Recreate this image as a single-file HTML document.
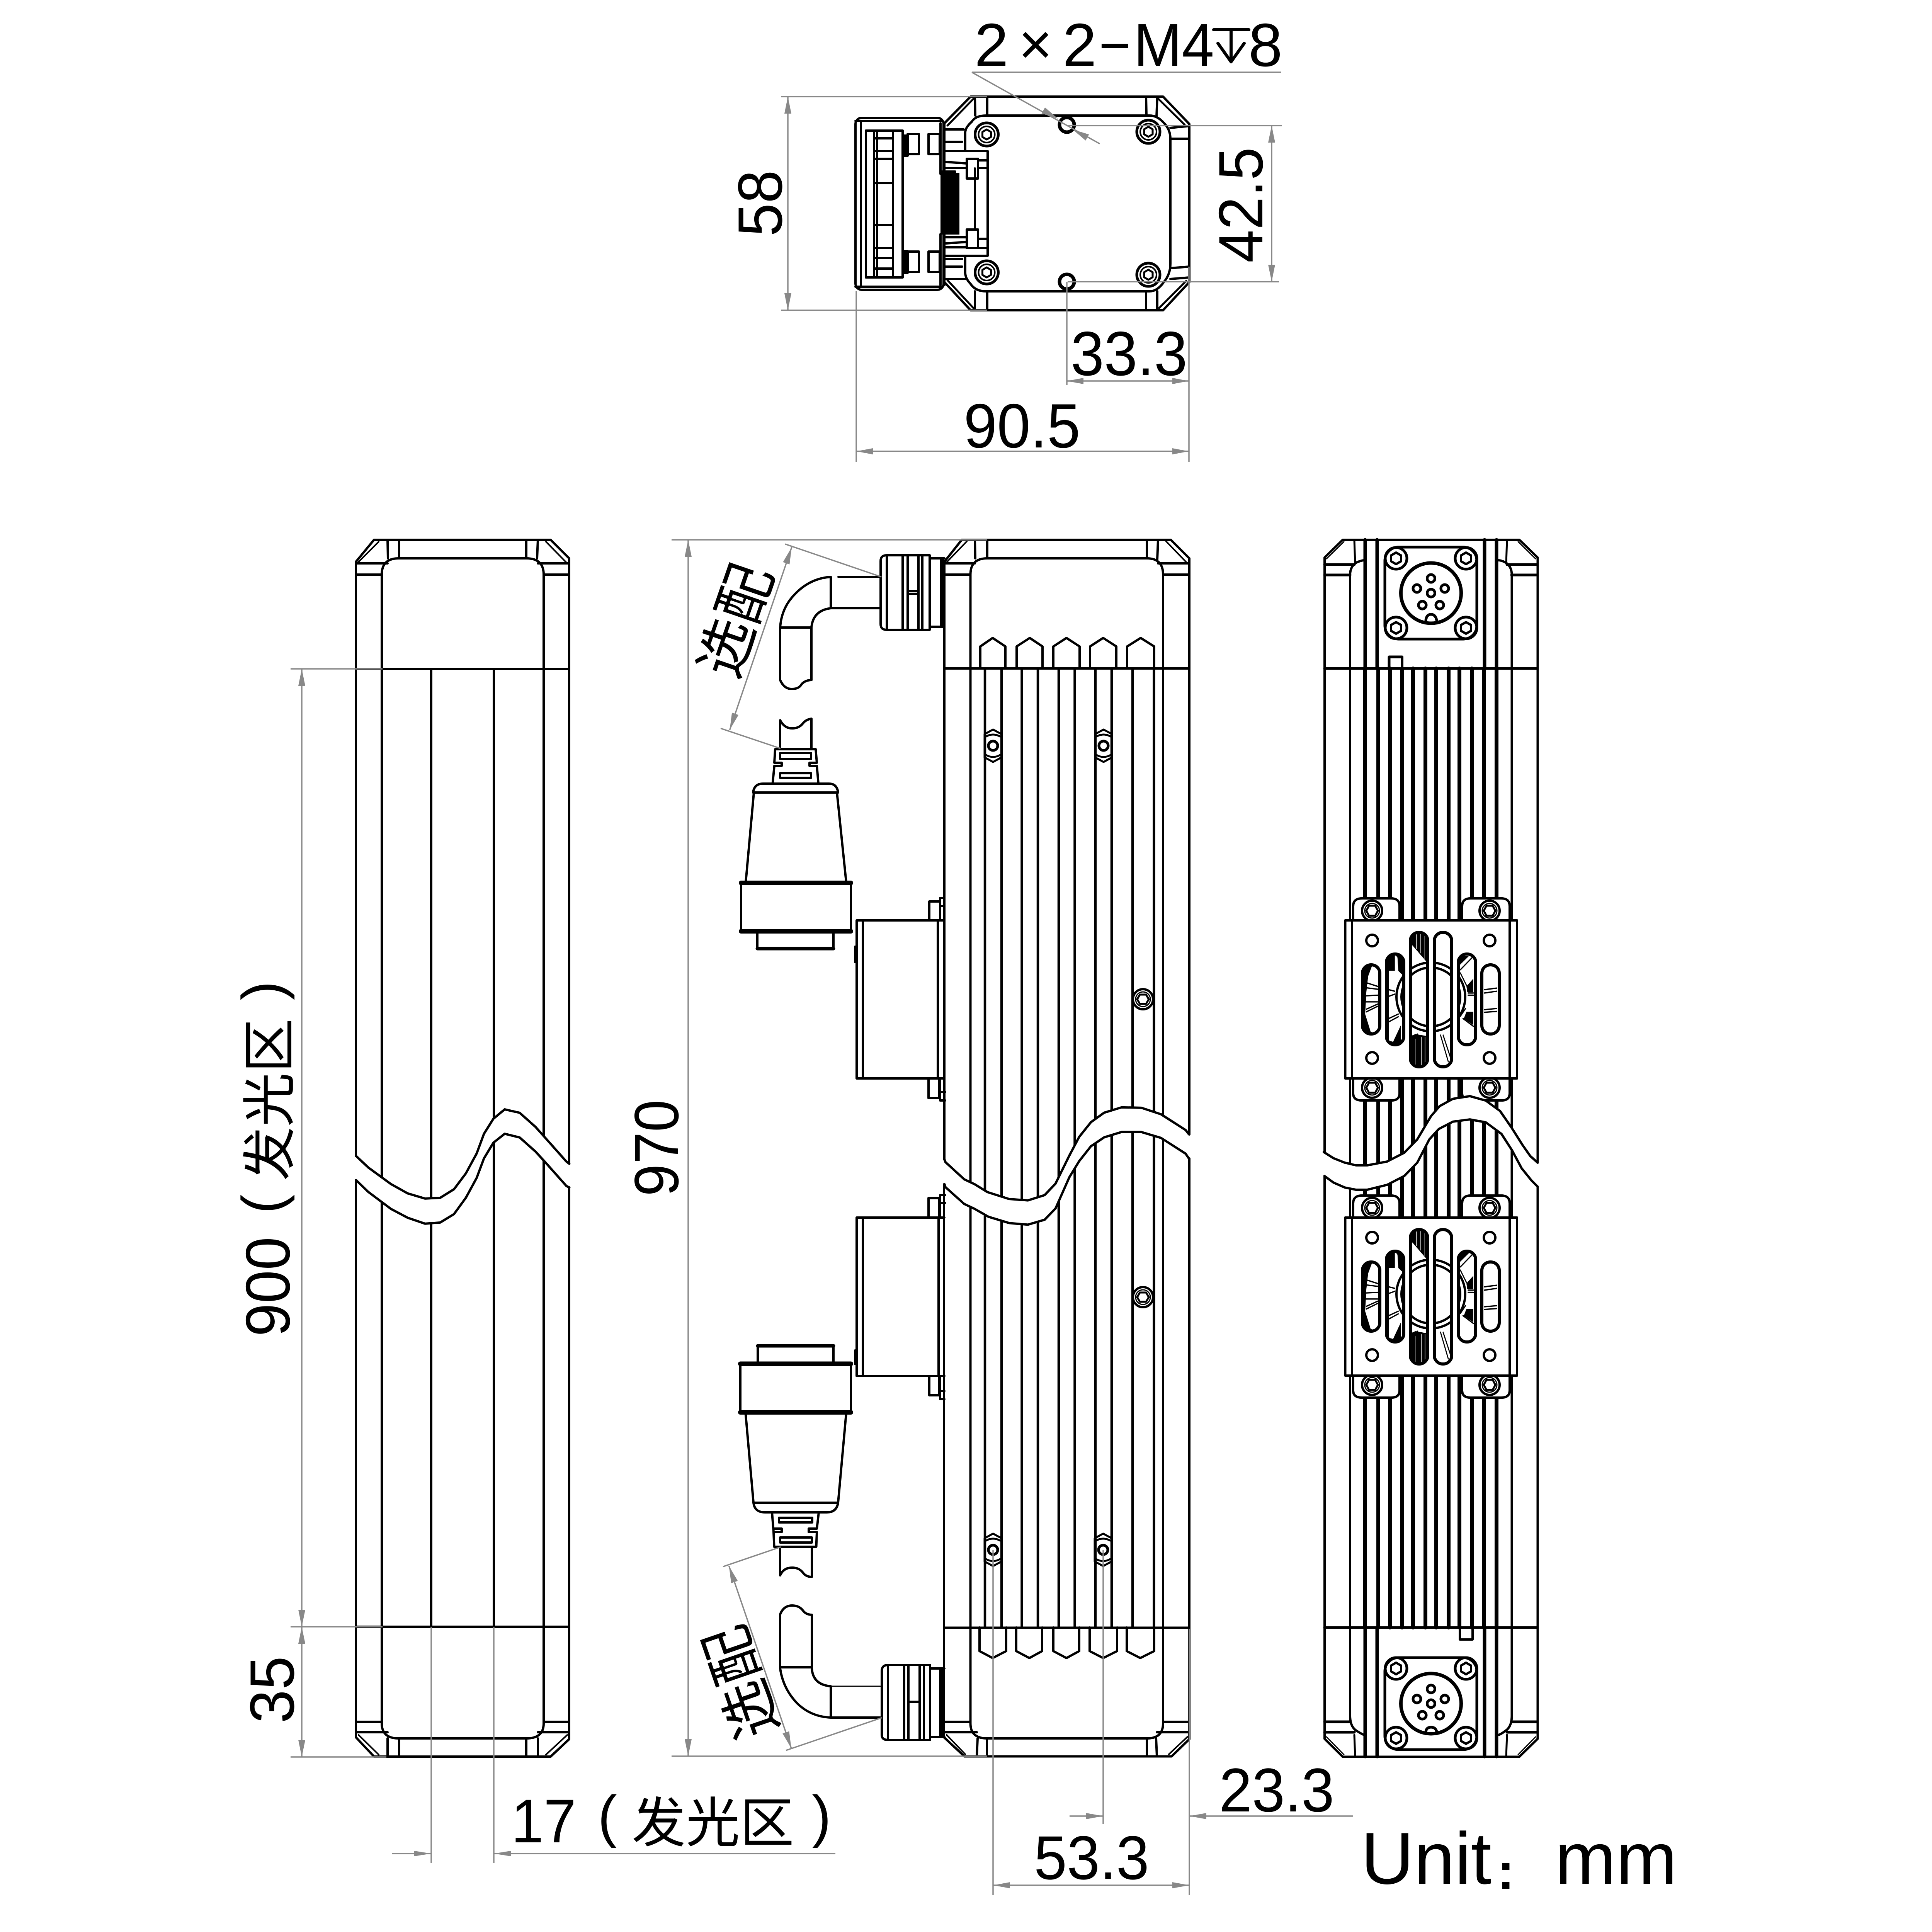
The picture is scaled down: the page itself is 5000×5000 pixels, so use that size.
<!DOCTYPE html>
<html><head><meta charset="utf-8"><style>
html,body{margin:0;padding:0;background:#fff}
svg{display:block}
.k *{vector-effect:non-scaling-stroke}
.k{fill:none;stroke:#000;stroke-width:6;stroke-linejoin:round;stroke-linecap:round}
.g{fill:none;stroke:#888;stroke-width:3.5}
.a{fill:#888;stroke:none}
text{fill:#000;stroke:none;font-family:"Liberation Sans","Noto Sans CJK SC",sans-serif}
</style></head><body>
<svg xmlns="http://www.w3.org/2000/svg" width="5000" height="5000" viewBox="0 0 5000 5000">
<rect width="5000" height="5000" fill="#fff"/>
<defs>
<g id="sc"><circle r="30" stroke-width="7"/><circle r="21" stroke-width="4"/><polygon points="0,-13 11,-6.5 11,6.5 0,13 -11,6.5 -11,-6.5" stroke-width="5"/></g>
<g id="sr"><circle r="28" stroke-width="7"/><polygon points="0,-15 13,-7.5 13,7.5 0,15 -13,7.5 -13,-7.5" stroke-width="6"/></g>
<g id="flat"><circle r="26" stroke-width="6"/><circle r="19" stroke-width="3"/><polygon points="-15,0 -8,-13 8,-13 15,0 8,13 -8,13" stroke-width="5"/></g>
<g id="fs"><circle cx="0" cy="0" r="12" stroke-width="7"/><path d="M-22,-30 L0,-42 22,-30 M-22,30 L0,42 22,30 M-22,-30 V30 M22,-30 V30 M-18,-24 Q0,-34 18,-24 M-18,24 Q0,34 18,24" stroke-width="5"/></g>
<g id="pin"><circle r="10" stroke-width="7"/></g>
<clipPath id="slots">
<rect x="3526" y="2497" width="45" height="179" rx="22"/>
<rect x="3588" y="2469" width="45" height="235" rx="22"/>
<rect x="3650" y="2413" width="45" height="348" rx="22"/>
<rect x="3712" y="2413" width="45" height="348" rx="22"/>
<rect x="3774" y="2469" width="45" height="235" rx="22"/>
<rect x="3835" y="2497" width="45" height="179" rx="22"/>
</clipPath>
<g id="fan">
<path fill="#fff" d="M3502,2382 V2345 Q3502,2325 3525,2325 H3600 Q3622,2325 3622,2345 V2382 Z M3784,2382 V2345 Q3784,2325 3806,2325 H3885 Q3907,2325 3907,2345 V2382 Z M3502,2791 V2830 Q3502,2848 3525,2848 H3600 Q3622,2848 3622,2830 V2791 Z M3784,2791 V2830 Q3784,2848 3806,2848 H3885 Q3907,2848 3907,2830 V2791 Z"/>
<use href="#flat" x="3551" y="2357"/><use href="#flat" x="3855" y="2357"/>
<use href="#flat" x="3551" y="2815"/><use href="#flat" x="3855" y="2815"/>
<rect x="3481.5" y="2382" width="444.5" height="409" fill="#fff"/>
<path d="M3499,2382 V2791 M3907,2382 V2791"/>
<ellipse cx="3551" cy="2434" rx="15" ry="15"/><ellipse cx="3855" cy="2434" rx="15" ry="15"/>
<ellipse cx="3551" cy="2738" rx="15" ry="15"/><ellipse cx="3855" cy="2738" rx="15" ry="15"/>
<g clip-path="url(#slots)">
<circle cx="3703" cy="2580" r="76"/><circle cx="3703" cy="2580" r="89"/>
<g transform="translate(3400 2280) scale(.4464 .574)">
<polygon fill="#000" stroke="none" points="283,378 340,378 315,430 305,500 298,600 330,680 370,690 283,690"/>
<polygon fill="#000" stroke="none" points="422,330 470,330 470,405 435,405 435,720 460,725 505,650 505,738 422,738"/>
<polygon fill="#000" stroke="none" points="485,345 522,345 522,330 470,330"/>
<polygon fill="#000" stroke="none" points="490,405 510,420 522,420 522,340 485,340"/>
<polygon fill="#000" stroke="none" points="560,232 660,232 660,370 572,290 560,300"/>
<polygon fill="#000" stroke="none" points="560,700 590,690 660,700 660,838 560,838"/>
<path stroke="#fff" stroke-width="3" d="M595,238 V305 M618,238 V325 M640,238 V350 M592,705 V832 M625,705 V832 M645,705 V832"/>
<polygon fill="#000" stroke="none" points="845,380 900,338 837,338"/>
<polygon fill="#000" stroke="none" points="885,475 925,440 925,500 890,500"/>
<polygon fill="#000" stroke="none" points="885,590 925,590 925,650 870,620"/>
<path d="M310,460 L370,475 M310,482 L370,488 M297,518 L370,515 M297,545 L370,545 M305,578 L370,555 M305,590 L370,565 M435,490 L470,497 M435,520 L470,510 M435,620 L490,600 M435,635 L490,612 M735,695 L780,815 M750,695 L790,790 M850,400 L925,340 M895,505 L925,505 M895,515 L925,515 M865,620 L925,655 M990,490 L1060,483 M990,505 L1060,497 M990,580 L1060,575 M990,592 L1060,588 M572,740 L600,690 M850,415 L885,470 M850,610 L880,575"/>
</g>
</g>
<rect x="3526" y="2497" width="45" height="179" rx="22" stroke-width="8"/>
<rect x="3588" y="2469" width="45" height="235" rx="22" stroke-width="8"/>
<rect x="3650" y="2413" width="45" height="348" rx="22" stroke-width="8"/>
<rect x="3712" y="2413" width="45" height="348" rx="22" stroke-width="8"/>
<rect x="3774" y="2469" width="45" height="235" rx="22" stroke-width="8"/>
<rect x="3835" y="2497" width="45" height="179" rx="22" stroke-width="8"/>
<rect x="3481.5" y="2382" width="444.5" height="409"/>
<path d="M3502,2382 V2345 Q3502,2325 3525,2325 H3600 Q3622,2325 3622,2345 V2382 M3784,2382 V2345 Q3784,2325 3806,2325 H3885 Q3907,2325 3907,2345 V2382 M3502,2791 V2830 Q3502,2848 3525,2848 H3600 Q3622,2848 3622,2830 V2791 M3784,2791 V2830 Q3784,2848 3806,2848 H3885 Q3907,2848 3907,2830 V2791"/>
</g>
</defs>

<g class="k">
<!-- ===== HEAD VIEW ===== -->
<path d="M2444,319 L2512,250 H3010 L3078,321 V730 L3010,803 H2512 L2444,730"/>
<path d="M2452,325 L2519,256 M2998,256 L3066,323 M2452,725 L2519,797 M3000,797 L3070,727" stroke-width="5"/>
<path d="M2523,250 L2524,299 M2555,250 V299 M2966,250 L2967,299 M2995,250 L2993,303 M2523,803 V754 M2555,803 V754 M2966,803 V754 M2995,803 V754"/>
<path d="M2498,343 Q2498,330 2515,315 Q2525,299 2552,299 H2975 Q2995,299 3012,318 Q3029,335 3029,360 V682 Q3029,710 3012,730 Q2995,754 2975,754 H2552 Q2525,754 2512,735 Q2498,720 2498,706 V662 H2556 V391 H2498 Z"/>
<path d="M3029,331 L3078,326 M3029,359 H3078 M3029,694 L3078,690 M3029,722 L3078,718"/>
<use href="#sc" x="2553.5" y="348"/><use href="#sc" x="2972" y="341"/><use href="#sc" x="2553.5" y="705"/><use href="#sc" x="2972" y="711"/>
<circle cx="2761" cy="323" r="19" stroke-width="9"/><circle cx="2761" cy="729" r="19" stroke-width="9"/>
<!-- connector -->
<rect x="2214" y="305" width="228" height="445" rx="16"/>
<path d="M2228,313 V742 M2214,313 H2436 M2214,742 H2436 M2241,338 V718 M2262,338 V718 M2270,338 V718 M2311,338 V718 M2336,338 V718"/>
<path d="M2241,338 H2336 M2241,718 H2336 M2262,358 H2311 M2262,391 H2311 M2262,411 H2311 M2262,474 H2311 M2262,582 H2311 M2262,642 H2311 M2262,668 H2311 M2262,695 H2311"/>
<rect x="2336" y="351" width="13" height="52" fill="#000"/><rect x="2336" y="650" width="13" height="56" fill="#000"/>
<rect x="2349" y="347" width="29" height="52"/><rect x="2349" y="651" width="29" height="53"/>
<rect x="2403" y="347" width="29" height="52"/><rect x="2403" y="651" width="29" height="53"/>
<path d="M2434,319 V450 M2444,319 V450 M2434,606 V738 M2444,606 V738"/>
<rect x="2436" y="443" width="36" height="162" fill="#000" stroke-width="4"/>
<rect x="2472" y="447" width="11" height="160" fill="#000" stroke="none"/>
<path d="M2523,436 V594 M2444,335 H2494 M2444,367 H2490 M2444,391 H2498 M2448,419 L2502,423 M2448,435 H2502 M2448,630 L2502,626 M2448,614 H2502 M2444,662 H2498 M2444,670 H2490 M2444,690 H2490 M2444,722 L2498,722 M2531,415 H2556 M2531,435 H2556 M2531,618 H2556 M2531,642 H2556 M2502,594 H2531 M2444,640 H2502"/>
<rect x="2502" y="411" width="29" height="51"/><rect x="2502" y="594" width="29" height="48"/>

<!-- ===== LEFT VIEW ===== -->
<path d="M921,2992 V1454 L968,1397 H1425 L1473,1445 V3012"/>
<path d="M1473,3073 V4501 L1425,4546 H968 L921,4496 V3054"/>
<path d="M928,1454 L980,1402 M1413,1402 L1468,1458 M928,4490 L980,4541 M1413,4541 L1468,4490" stroke-width="4"/>
<path d="M988,4460 V1487 Q988,1445 1032,1445 H1362 Q1407,1445 1407,1487 V4460 Q1407,4499 1362,4499 H1032 Q988,4499 988,4460"/>
<path d="M921,1458 H1003 M921,1487 H988 M1407,1487 H1473 M1392,1458 H1473 M921,4456 H988 M921,4483 H1003 M1407,4456 H1473 M1392,4483 H1473 M921,1731 H1473 M921,4210 H1473 M1116,1731 V4210 M1278,1731 V4210"/>
<path d="M1003,1397 L1004,1445 M1033,1397 V1445 M1362,1397 V1445 M1392,1397 L1390,1445 M1003,4546 V4499 M1033,4546 V4499 M1362,4546 V4499 M1392,4546 V4499"/>
<g transform="translate(800 2700) scale(.5102 .3827)">
<polygon fill="#fff" stroke="none" points="238,762 300,840 415,952 500,1015 588,1050 665,1045 735,987 795,880 850,745 887,612 935,510 992,447 1068,470 1148,565 1195,635 1305,800 1320,815 1320,975 1305,965 1195,800 1148,732 1068,637 992,612 935,672 887,778 850,910 795,1045 735,1155 665,1212 588,1220 500,1180 415,1120 300,1005 238,925"/>
<polyline points="238,762 300,840 415,952 500,1015 588,1050 665,1045 735,987 795,880 850,745 887,612 935,510 992,447 1068,470 1148,565 1195,635 1305,800 1320,815"/>
<polyline points="238,925 300,1005 415,1120 500,1180 588,1220 665,1212 735,1155 795,1045 850,910 887,778 935,672 992,612 1068,637 1148,732 1195,800 1305,965 1320,975"/>
</g>

<!-- ===== MIDDLE VIEW ===== -->
<path d="M2444,3001 V1454 L2489,1397 H3030 L3078,1445 V2936"/>
<path d="M3078,2998 V4501 L3032,4545.5 H2496 L2443,4496 V3065"/>
<path d="M2451,1454 L2502,1401 M3018,1401 L3073,1458 M2450,4490 L2498,4540 M3025,4540 L3073,4495" stroke-width="4"/>
<path d="M2511.5,4460 V1487 Q2511.5,1445 2555,1445 H2968 Q3010,1445 3010,1487 V4460 Q3010,4499 2968,4499 H2555 Q2511.5,4499 2511.5,4460"/>
<path d="M2444,1458 H2523 M2444,1487 H2511 M3010,1487 H3078 M2997,1458 H3078 M2444,4456 H2511 M2444,4483 H2528 M3010,4456 H3078 M2994,4483 H3078 M2444,1730 H3078 M2444,4212.5 H3078"/>
<path d="M2523,1397 L2524,1445 M2555,1397 V1445 M2968,1397 V1445 M2997,1397 L2995,1448 M2528,4545 L2530,4499 M2554,4545 V4499 M2968,4545 V4499 M2994,4545 L2992,4499"/>
<path d="M2549,1730 V4212 M2592,1730 V4212 M2644.5,1730 V4212 M2686,1730 V4212 M2740,1730 V4212 M2781.5,1730 V4212 M2835,1730 V4212 M2877,1730 V4212 M2931,1730 V4212 M2986.5,1730 V4212" stroke-width="6.5"/>
<path d="M2537,1730 V1673 L2569,1651 L2602,1673 V1730 M2631,1730 V1673 L2665,1651 L2698,1673 V1730 M2726,1730 V1673 L2760,1651 L2794,1673 V1730 M2821,1730 V1673 L2855,1651 L2889,1673 V1730 M2917,1730 V1673 L2952,1651 L2987,1673 V1730"/>
<path d="M2535,4212 V4273 L2569,4291 L2604,4273 V4212 M2630,4212 V4273 L2664,4291 L2697,4273 V4212 M2726,4212 V4273 L2760,4291 L2793,4273 V4212 M2820,4212 V4273 L2855,4291 L2891,4273 V4212 M2916,4212 V4273 L2951,4291 L2987,4273 V4212"/>
<use href="#fs" x="2570" y="1930"/><use href="#fs" x="2856" y="1930"/><use href="#fs" x="2570" y="4011"/><use href="#fs" x="2855" y="4011"/>
<g><circle cx="2958" cy="2586" r="26"/><circle cx="2958" cy="2586" r="19" stroke-width="3"/><polygon points="2943,2586 2950,2574 2966,2574 2973,2586 2966,2598 2950,2598" stroke-width="5"/></g>
<g><circle cx="2958" cy="3357" r="26"/><circle cx="2958" cy="3357" r="19" stroke-width="3"/><polygon points="2943,3357 2950,3345 2966,3345 2973,3357 2966,3369 2950,3369" stroke-width="5"/></g>
<!-- side boxes -->
<path d="M2217,2791 V2382 H2444 M2233,2382 V2791 M2427,2382 V2791 M2217,2791 H2444 M2213,2450 V2490"/>
<path d="M2217,3151 V3561 H2444 M2233,3151 V3561 M2429,3151 V3561 M2217,3151 H2444 M2213,3495 V3530"/>
<path d="M2405,2382 V2333 H2433 V2382 M2433,2324 H2444 M2433,2324 V2345 H2444 M2403,2791 V2842 H2431 V2791 M2433,2791 V2848 H2446 M2433,2826 H2446"/>
<path d="M2403,3151 V3100.5 H2431 V3151 M2433,3151 V3093 H2446 M2433,3113 H2446 M2405,3561 V3611 H2430 V3561 M2433,3561 V3621 H2444 M2433,3600 H2444"/>
<!-- wave -->
<g transform="translate(2400 2700) scale(.5102)">
<polygon fill="#fff" stroke="none" points="87,590 92,603 187,690 240,715 305,755 415,790 510,797 595,770 650,712 720,570 770,475 830,400 897,352 985,325 1085,327 1185,360 1310,440 1327,462 1327,585 1310,560 1185,480 1085,450 985,450 897,477 830,522 770,598 720,680 650,838 595,895 510,920 415,912 310,880 240,840 187,815 92,730 87,715"/>
<polyline points="87,590 92,603 187,690 240,715 305,755 415,790 510,797 595,770 650,712 720,570 770,475 830,400 897,352 985,325 1085,327 1185,360 1310,440 1327,462"/>
<polyline points="87,715 92,730 187,815 240,840 310,880 415,912 510,920 595,895 650,838 720,680 770,598 830,522 897,477 985,450 1085,450 1185,480 1310,560 1327,585"/>
</g>
<!-- upper connector -->
<path d="M2279,1452 Q2279,1437 2295,1437 H2406 V1630 H2295 Q2279,1630 2279,1615 Z M2295,1437 V1630 M2336,1437 V1630 M2349,1437 V1630 M2377,1437 V1630 M2387,1437 V1630 M2349,1530 H2377 M2349,1537 H2377 M2406,1445 H2444 M2406,1622 H2444"/>
<rect x="2432" y="1445" width="12" height="177" fill="#000" stroke="none"/>
<path d="M2279,1493 H2170 M2279,1574 H2150 M2150,1493 V1574 M2150,1493 Q2090,1497 2048,1548 Q2022,1580 2019,1624 M2150,1574 Q2104,1580 2100,1624 M2019,1624 H2100 M2019,1624 V1760 Q2030,1784 2050,1783 Q2068,1783 2075,1770 Q2085,1760 2100,1760 V1624"/>
<path d="M2019,1939 V1864 Q2030,1885 2050,1885 Q2068,1885 2078,1872 Q2086,1862 2100,1860 V1939"/>
<path d="M2006,1939 H2111 L2114,1974 H2095 V1982 H2114 L2118,2028 H1999.5 L2004,1982 H2023 V1974 H2004 Z"/>
<rect x="2019" y="1949" width="80" height="15"/><rect x="2019" y="2001" width="80" height="12"/>
<path d="M1949,2051 Q1952,2028 1975,2028 H2145 Q2166,2028 2169,2051 M1951,2051 H2166 M1951,2051 L1930,2283 M2166,2051 L2190,2283"/>
<rect x="1918" y="2285" width="284" height="125"/><path d="M1918,2285 H2202 M1918,2410 H2202" stroke-width="12"/>
<path d="M1960,2410 V2455 H2157 V2410"/><path d="M1960,2455 H2157" stroke-width="9"/>
<!-- lower connector -->
<rect x="1916" y="3529.5" width="286" height="125.5"/><path d="M1916,3529.5 H2202 M1916,3655 H2202" stroke-width="12"/>
<path d="M1961,3529 V3483 H2157 V3529"/><path d="M1961,3483 H2157" stroke-width="9"/>
<path d="M1929.5,3657 L1950,3889 Q1953,3914 1980,3914 H2140 Q2165,3914 2169,3889 L2190,3657 M1950,3889 H2168"/>
<path d="M1998,3914 L2002,3965 H2023 V3956 H2002 M2119,3914 L2114,3956 H2093 V3965 H2114 L2112.5,4003 H2003.6 L2002,3965"/>
<rect x="2016" y="3928" width="86" height="12"/><rect x="2019" y="3979" width="82" height="13"/>
<path d="M2019,4003 V4077 Q2028,4057 2050,4057 Q2068,4057 2078,4070 Q2086,4081 2101,4081 V4003"/>
<path d="M2019,4178 Q2028,4155 2050,4155 Q2068,4155 2078,4168 Q2086,4179 2101,4179 V4315 M2019,4178 V4318 M2019,4315 H2101 M2019,4318 Q2027,4372 2065,4410 Q2100,4443 2150,4445 M2101,4318 Q2104,4360 2150,4364 M2150,4364 V4445 M2150,4445 H2278"/>
<path d="M2150,4364 H2278" stroke-width="3"/>
<path d="M2282,4325 Q2282,4309 2298,4309 H2407 V4503 H2298 Q2282,4503 2282,4490 Z M2298,4309 V4503 M2340,4309 V4503 M2351,4309 V4503 M2380,4309 V4503 M2391,4309 V4503 M2351,4404.5 H2380 M2407,4318 H2444 M2407,4495 H2444"/>
<rect x="2430" y="4318" width="14" height="177" fill="#000" stroke="none"/>

<!-- ===== RIGHT VIEW ===== -->
<path d="M3428,2981.5 V1443 L3475,1397 H3932 L3979.5,1443 V3009"/>
<path d="M3979.5,3071 V4500 L3932,4546.5 H3475 L3428,4500 V3043.5"/>
<path d="M3433,1446 L3478,1402 M3929,1402 L3974,1446 M3433,4495 L3478,4541 M3929,4541 L3974,4495" stroke-width="3"/>
<path d="M3494,4440 V1488 Q3494,1465 3512,1455 Q3525,1450 3530,1450 M3912.5,4440 V1488 Q3912.5,1465 3895,1455 Q3885,1450 3878,1450 M3494,4440 Q3494,4470 3512,4480 Q3525,4488 3530,4490 M3912.5,4440 Q3912.5,4470 3895,4480 Q3885,4488 3878,4490"/>
<path d="M3428,1461 H3505 M3428,1488 H3494 M3912,1488 H3979 M3900,1461 H3979 M3428,4456 H3494 M3428,4483 H3505 M3912,4456 H3979 M3900,4483 H3979 M3428,1730 H3979 M3428,4212 H3979" stroke-width="7"/>
<path d="M3505,1397 L3507,1458 M3900,1397 L3898,1458 M3507,4546 L3505,4490 M3898,4546 L3900,4490" stroke-width="5"/>
<path d="M3533,1397 V1730 M3564,1397 V1730 M3842,1397 V1730 M3873,1397 V1730 M3533,4212 V4546 M3564,4212 V4546 M3842,4212 V4546 M3873,4212 V4546" stroke-width="9"/>
<path d="M3533,1730 V4212 M3567,1730 V4212 M3597,1730 V4212 M3628.5,1730 V4212 M3657,1730 V4212 M3689,1730 V4212 M3717,1730 V4212 M3749,1730 V4212 M3777,1730 V4212 M3809,1730 V4212 M3840,1730 V4212 M3873,1730 V4212" stroke-width="10"/>
<path d="M3595,1730 V1700 H3628.5 V1730" stroke-width="7"/>
<path d="M3778,4212 V4243 H3811 V4212" stroke-width="6"/>
<rect x="3584" y="1416" width="238" height="238" rx="35" stroke-width="7"/>
<rect x="3584" y="4290" width="238" height="238" rx="35" stroke-width="7"/>
<use href="#sr" x="3613" y="1445"/><use href="#sr" x="3794" y="1445"/><use href="#sr" x="3613" y="1625"/><use href="#sr" x="3794" y="1625"/>
<use href="#sr" x="3613" y="4318"/><use href="#sr" x="3794" y="4318"/><use href="#sr" x="3613" y="4498"/><use href="#sr" x="3794" y="4498"/>
<circle cx="3703.5" cy="1535" r="78" stroke-width="9"/><circle cx="3703.5" cy="4409" r="78" stroke-width="9"/>
<use href="#pin" x="3703.5" y="1497"/><use href="#pin" x="3667" y="1523"/><use href="#pin" x="3739" y="1523"/><use href="#pin" x="3681" y="1566"/><use href="#pin" x="3726" y="1566"/><use href="#pin" x="3703.5" y="1535"/>
<use href="#pin" x="3703.5" y="4371"/><use href="#pin" x="3667" y="4397"/><use href="#pin" x="3739" y="4397"/><use href="#pin" x="3681" y="4439"/><use href="#pin" x="3726" y="4439"/><use href="#pin" x="3703.5" y="4409"/>
<path d="M3690,1605 Q3692,1590 3703.5,1590 Q3715,1590 3718,1605 M3690,4481 Q3692,4470 3703.5,4470 Q3715,4470 3718,4481" stroke-width="7"/>
<use href="#fan"/><use href="#fan" y="769"/>
<g transform="translate(3400 2280) scale(.4464 .574)">
<polygon fill="#fff" stroke="none" points="62,1222 115,1250 180,1270 245,1282 310,1282 425,1265 525,1225 600,1165 680,1060 730,1015 807,982 905,970 997,990 1080,1037 1145,1110 1210,1190 1255,1240 1298,1270 1298,1378 1262,1350 1205,1295 1150,1215 1088,1140 997,1088 905,1075 807,1085 725,1118 670,1165 600,1270 525,1330 425,1370 310,1392 245,1392 180,1382 115,1360 62,1330"/>
<polyline points="58,1222 115,1250 180,1270 245,1282 310,1282 425,1265 525,1225 600,1165 680,1060 730,1015 807,982 905,970 997,990 1080,1037 1145,1110 1210,1190 1255,1240 1298,1270"/>
<polyline points="62,1330 115,1360 180,1382 245,1392 310,1392 425,1370 525,1330 600,1270 670,1165 725,1118 807,1085 905,1075 997,1088 1088,1140 1150,1215 1205,1295 1262,1350 1298,1378"/>
</g>
<!-- depth symbol -->
<path d="M3141,77 H3232 M3186,77 V160 M3152,112 L3186,160 L3220,112" stroke-width="8"/>
</g>

<!-- ===== DIMENSIONS ===== -->
<g class="g">
<path d="M2515,187 H3316 M2515,187 L2846,372"/>
<path d="M2022,250 H2555 M2022,803 H2555 M2039,250 V803"/>
<path d="M2763,325 H3317 M2763,729 H3310 M3291,325 V729"/>
<path d="M2761,729 V997 M3077,690 V1196 M2761,986 H3077"/>
<path d="M2216,753 V1196 M2216,1168 H3077"/>
<path d="M752,1731 H990 M752,4210 H990 M752,4547 H1000 M781,1731 V4547"/>
<path d="M1738,1397 H2554 M1738,4545 H2554 M1781,1397 V4545"/>
<path d="M2032,1408 L2281,1493 M1865,1885 L2020,1937 M2049,1416 L1888.5,1889"/>
<path d="M1871,4054.5 L2020.5,4003.5 M2034,4530 L2282,4445.5 M1886.6,4052.7 L2048,4525"/>
<path d="M1116,4210 V4822 M1278,4210 V4822 M1014,4797 H1116 M1278,4797 H2162"/>
<path d="M2570,4011 V4905 M2855,4011 V4720 M3078,4215 V4905 M2768,4700 H2855 M3078,4700 H3502 M2570,4879 H3078"/>
</g>
<g class="a">
<polygon points="2738,307 2695.6,293.8 2704.4,278"/><polygon points="2776,335 2809.6,363.8 2818.4,348"/>
<polygon points="2039,250 2030,294 2048,294"/><polygon points="2039,803 2030,759 2048,759"/>
<polygon points="3291,325 3282,369 3300,369"/><polygon points="3291,729 3282,685 3300,685"/>
<polygon points="2761,986 2804,978 2804,994"/><polygon points="3077,986 3034,978 3034,994"/>
<polygon points="2216,1168 2259,1160 2259,1176"/><polygon points="3077,1168 3034,1160 3034,1176"/>
<polygon points="781,1731 772,1775 790,1775"/><polygon points="781,4210 772,4166 790,4166"/><polygon points="781,4210 772,4254 790,4254"/><polygon points="781,4547 772,4503 790,4503"/>
<polygon points="1781,1397 1772,1441 1790,1441"/><polygon points="1781,4545 1772,4501 1790,4501"/>
<polygon points="2049,1416 2043.3,1460.6 2026.3,1454.8"/><polygon points="1888.5,1889 1911.2,1850.2 1894.2,1844.4"/>
<polygon points="1886.6,4052.7 1909.3,4091.4 1892.3,4097.2"/><polygon points="2048,4525 2042.3,4480.5 2025.3,4486.3"/>
<polygon points="1116,4797 1072,4790 1072,4804"/><polygon points="1278,4797 1322,4790 1322,4804"/>
<polygon points="2855,4700 2811,4692 2811,4708"/><polygon points="3078,4700 3122,4692 3122,4708"/>
<polygon points="2570,4879 2614,4871 2614,4887"/><polygon points="3078,4879 3034,4871 3034,4887"/>
</g>

<!-- ===== TEXT ===== -->
<text x="2522" y="171" font-size="158">2</text>
<text x="2636" y="166" font-size="150">×</text>
<text x="2750" y="171" font-size="158">2</text>
<text x="2844" y="171" font-size="156" textLength="82" lengthAdjust="spacingAndGlyphs">−</text>
<text x="2934" y="171" font-size="158" textLength="208" lengthAdjust="spacingAndGlyphs">M4</text>
<text x="3231" y="171" font-size="158">8</text>
<text transform="translate(2023 612) rotate(-90)" font-size="162" textLength="172" lengthAdjust="spacingAndGlyphs">58</text>
<text transform="translate(3267 680) rotate(-90)" font-size="162" textLength="299" lengthAdjust="spacingAndGlyphs">42.5</text>
<text x="2771" y="971" font-size="162" textLength="302" lengthAdjust="spacingAndGlyphs">33.3</text>
<text x="2494" y="1158" font-size="162" textLength="302" lengthAdjust="spacingAndGlyphs">90.5</text>
<text transform="translate(749 3459) rotate(-90)" font-size="162" textLength="258" lengthAdjust="spacingAndGlyphs">900</text>
<text transform="translate(747 3056) rotate(-90)" font-size="140">发光区</text>
<text transform="translate(731 3141) rotate(-90)" font-size="150">(</text>
<text transform="translate(731 2589) rotate(-90)" font-size="150">)</text>
<text transform="translate(760 4460) rotate(-90)" font-size="162" textLength="174" lengthAdjust="spacingAndGlyphs">35</text>
<text transform="translate(1755 3096) rotate(-90)" font-size="162" textLength="250" lengthAdjust="spacingAndGlyphs">970</text>
<text x="1323" y="4768" font-size="160" textLength="168" lengthAdjust="spacingAndGlyphs">17</text>
<text x="1547" y="4752" font-size="150">(</text>
<text x="1635" y="4767" font-size="140">发光区</text>
<text x="2101" y="4752" font-size="150">)</text>
<text x="3155" y="4688" font-size="160" textLength="298" lengthAdjust="spacingAndGlyphs">23.3</text>
<text x="2676" y="4863" font-size="160" textLength="298" lengthAdjust="spacingAndGlyphs">53.3</text>
<text x="3522" y="4875" font-size="190">Unit</text>
<text x="3897" y="4889" font-size="134" font-weight="bold" text-anchor="middle">:</text>
<text x="4024" y="4875" font-size="190">mm</text>
<text transform="translate(1906 1607) rotate(-71)" font-size="148" text-anchor="middle" dominant-baseline="central">选配</text>
<text transform="translate(1920 4353) rotate(-109)" font-size="148" text-anchor="middle" dominant-baseline="central">选配</text>
</svg>
</body></html>
